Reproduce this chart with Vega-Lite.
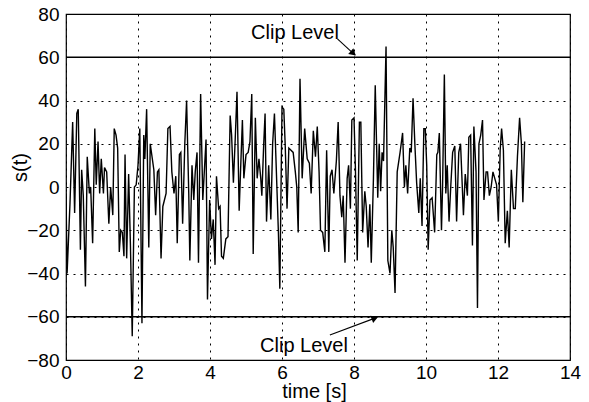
{
  "$schema": "https://vega.github.io/schema/vega-lite/v6.json",
  "autosize": "none",
  "width": 504,
  "height": 346,
  "padding": {"left": 66, "top": 14, "right": 19, "bottom": 42},
  "background": "white",
  "config": {
    "view": {"stroke": "black", "strokeWidth": 1.2},
    "font": "Liberation Sans",
    "axis": {
      "grid": true, "gridColor": "black", "gridDash": [2, 5], "gridOpacity": 1, "gridWidth": 1,
      "domain": false, "ticks": false,
      "labelFont": "Liberation Sans", "labelFontSize": 19, "labelColor": "black",
      "titleFont": "Liberation Sans", "titleFontSize": 20, "titleFontWeight": "normal", "titleColor": "black"
    }
  },
  "datasets": {
    "signal": [
      {"t":0.00,"s":-3},{"t":0.03,"s":-40},{"t":0.11,"s":-8},{"t":0.185,"s":30},{"t":0.24,"s":-12},{"t":0.30,"s":34},{"t":0.34,"s":36},{"t":0.40,"s":-29},{"t":0.435,"s":8},{"t":0.48,"s":-4},{"t":0.54,"s":-46},{"t":0.59,"s":14},{"t":0.65,"s":-3},{"t":0.685,"s":0},{"t":0.74,"s":-26},{"t":0.80,"s":27},{"t":0.84,"s":1},{"t":0.89,"s":21},{"t":0.935,"s":-3},{"t":0.98,"s":13},{"t":1.04,"s":-3},{"t":1.07,"s":9},{"t":1.13,"s":7},{"t":1.19,"s":-17},{"t":1.24,"s":0},{"t":1.30,"s":-13},{"t":1.34,"s":27},{"t":1.39,"s":24},{"t":1.435,"s":18},{"t":1.48,"s":-30},{"t":1.52,"s":-20},{"t":1.565,"s":-21},{"t":1.61,"s":-32},{"t":1.64,"s":15},{"t":1.685,"s":-33},{"t":1.74,"s":6},{"t":1.79,"s":-27},{"t":1.84,"s":-69},{"t":1.90,"s":0},{"t":1.95,"s":1},{"t":2.00,"s":10},{"t":2.05,"s":27},{"t":2.11,"s":-63},{"t":2.16,"s":24},{"t":2.19,"s":13},{"t":2.24,"s":36},{"t":2.30,"s":-28},{"t":2.34,"s":20},{"t":2.44,"s":8},{"t":2.49,"s":-13},{"t":2.54,"s":7},{"t":2.58,"s":8},{"t":2.64,"s":-33},{"t":2.69,"s":-9},{"t":2.78,"s":-3},{"t":2.83,"s":27},{"t":2.89,"s":28},{"t":2.94,"s":7},{"t":3.00,"s":-3},{"t":3.05,"s":5},{"t":3.09,"s":-26},{"t":3.15,"s":15},{"t":3.19,"s":16},{"t":3.24,"s":-17},{"t":3.30,"s":20},{"t":3.35,"s":40},{"t":3.41,"s":-3},{"t":3.44,"s":-34},{"t":3.50,"s":10},{"t":3.55,"s":-6},{"t":3.59,"s":7},{"t":3.64,"s":16},{"t":3.68,"s":-35},{"t":3.74,"s":43},{"t":3.80,"s":-6},{"t":3.89,"s":22},{"t":3.93,"s":-52},{"t":3.99,"s":-6},{"t":4.04,"s":-24},{"t":4.09,"s":-15},{"t":4.14,"s":-36},{"t":4.18,"s":5},{"t":4.24,"s":-10},{"t":4.28,"s":-9},{"t":4.32,"s":-32},{"t":4.37,"s":-33},{"t":4.44,"s":-24},{"t":4.50,"s":-23},{"t":4.56,"s":33},{"t":4.60,"s":24},{"t":4.65,"s":2},{"t":4.70,"s":22},{"t":4.75,"s":44},{"t":4.81,"s":-11},{"t":4.85,"s":8},{"t":4.90,"s":31},{"t":4.94,"s":4},{"t":5.00,"s":15},{"t":5.06,"s":16},{"t":5.11,"s":21},{"t":5.16,"s":43},{"t":5.20,"s":-31},{"t":5.26,"s":32},{"t":5.31,"s":4},{"t":5.36,"s":13},{"t":5.41,"s":4},{"t":5.44,"s":-4},{"t":5.49,"s":19},{"t":5.53,"s":34},{"t":5.57,"s":-16},{"t":5.63,"s":10},{"t":5.69,"s":-15},{"t":5.74,"s":20},{"t":5.79,"s":34},{"t":5.83,"s":14},{"t":5.90,"s":-21},{"t":5.94,"s":-47},{"t":6.00,"s":37},{"t":6.05,"s":36},{"t":6.09,"s":19},{"t":6.14,"s":-10},{"t":6.19,"s":18},{"t":6.25,"s":17},{"t":6.31,"s":16},{"t":6.37,"s":7},{"t":6.41,"s":0},{"t":6.45,"s":-21},{"t":6.50,"s":50},{"t":6.56,"s":4},{"t":6.63,"s":27},{"t":6.70,"s":13},{"t":6.76,"s":11},{"t":6.81,"s":-3},{"t":6.87,"s":26},{"t":6.93,"s":14},{"t":6.98,"s":28},{"t":7.03,"s":7},{"t":7.07,"s":-20},{"t":7.13,"s":-21},{"t":7.19,"s":-30},{"t":7.24,"s":17},{"t":7.30,"s":-30},{"t":7.34,"s":5},{"t":7.39,"s":8},{"t":7.44,"s":-3},{"t":7.51,"s":12},{"t":7.56,"s":30},{"t":7.61,"s":-4},{"t":7.66,"s":-14},{"t":7.70,"s":-4},{"t":7.75,"s":-35},{"t":7.81,"s":4},{"t":7.85,"s":10},{"t":7.90,"s":-10},{"t":7.94,"s":31},{"t":8.00,"s":32},{"t":8.04,"s":8},{"t":8.09,"s":-34},{"t":8.15,"s":30},{"t":8.19,"s":30},{"t":8.24,"s":-21},{"t":8.30,"s":-2},{"t":8.34,"s":-9},{"t":8.39,"s":-28},{"t":8.44,"s":-8},{"t":8.48,"s":-35},{"t":8.54,"s":4},{"t":8.59,"s":47},{"t":8.66,"s":-5},{"t":8.70,"s":20},{"t":8.74,"s":-2},{"t":8.78,"s":16},{"t":8.82,"s":12},{"t":8.89,"s":65},{"t":8.94,"s":-34},{"t":9.00,"s":-40},{"t":9.05,"s":-20},{"t":9.09,"s":-28},{"t":9.14,"s":-49},{"t":9.20,"s":7},{"t":9.28,"s":16},{"t":9.35,"s":25},{"t":9.40,"s":0},{"t":9.44,"s":10},{"t":9.49,"s":-3},{"t":9.55,"s":18},{"t":9.59,"s":16},{"t":9.64,"s":41},{"t":9.69,"s":20},{"t":9.74,"s":2},{"t":9.80,"s":-12},{"t":9.84,"s":4},{"t":9.89,"s":-18},{"t":9.94,"s":27},{"t":9.98,"s":27},{"t":10.02,"s":10},{"t":10.06,"s":-29},{"t":10.11,"s":-6},{"t":10.17,"s":-5},{"t":10.24,"s":-21},{"t":10.30,"s":15},{"t":10.33,"s":16},{"t":10.37,"s":25},{"t":10.43,"s":-20},{"t":10.46,"s":0},{"t":10.51,"s":52},{"t":10.55,"s":-3},{"t":10.59,"s":10},{"t":10.64,"s":-16},{"t":10.69,"s":1},{"t":10.74,"s":16},{"t":10.80,"s":19},{"t":10.85,"s":-16},{"t":10.91,"s":16},{"t":10.96,"s":20},{"t":11.04,"s":-13},{"t":11.09,"s":6},{"t":11.15,"s":-4},{"t":11.19,"s":23},{"t":11.24,"s":24},{"t":11.29,"s":-27},{"t":11.33,"s":28},{"t":11.39,"s":7},{"t":11.43,"s":-56},{"t":11.47,"s":20},{"t":11.52,"s":24},{"t":11.57,"s":31},{"t":11.61,"s":-6},{"t":11.67,"s":7},{"t":11.71,"s":7},{"t":11.76,"s":-4},{"t":11.81,"s":0},{"t":11.86,"s":7},{"t":11.91,"s":4},{"t":11.96,"s":1},{"t":12.01,"s":-16},{"t":12.06,"s":17},{"t":12.10,"s":27},{"t":12.15,"s":17},{"t":12.20,"s":-26},{"t":12.26,"s":-11},{"t":12.31,"s":-28},{"t":12.37,"s":8},{"t":12.43,"s":-10},{"t":12.48,"s":-10},{"t":12.54,"s":14},{"t":12.60,"s":32},{"t":12.65,"s":20},{"t":12.69,"s":-7},{"t":12.74,"s":21}
    ],
    "clip": [{"s": 60}, {"s": -60}],
    "labels": [
      {"t": 6.36, "s": 68.6, "label": "Clip Level"},
      {"t": 6.61, "s": -76.1, "label": "Clip Level"}
    ],
    "arrows": [
      {"t": 7.54, "s": 68.5, "t2": 8.03, "s2": 61.0},
      {"t": 7.33, "s": -68.4, "t2": 8.62, "s2": -60.4}
    ],
    "heads": [
      {"t": 7.98, "s": 61.8, "ang": 132},
      {"t": 8.58, "s": -60.7, "ang": 69}
    ]
  },
  "layer": [
    {
      "data": {"name": "signal"},
      "mark": {"type": "line", "color": "black", "strokeWidth": 1.4, "clip": true},
      "encoding": {
        "x": {"field": "t", "type": "quantitative", "title": "time [s]",
              "scale": {"domain": [0, 14], "nice": false, "zero": false},
              "axis": {"values": [0, 2, 4, 6, 8, 10, 12, 14], "labelPadding": 3, "labelFlush": false,
                       "titleX": 248, "titleY": 37, "titleBaseline": "alphabetic", "titleAnchor": null}},
        "y": {"field": "s", "type": "quantitative", "title": "s(t)",
              "scale": {"domain": [-80, 80], "nice": false, "zero": false},
              "axis": {"values": [-80, -60, -40, -20, 0, 20, 40, 60, 80], "labelPadding": 7, "labelFlush": false,
                       "titleX": -46, "titleY": 153, "titleAngle": -90, "titleBaseline": "middle", "titleAlign": "center", "titleAnchor": null}}
      }
    },
    {
      "data": {"name": "clip"},
      "mark": {"type": "rule", "color": "black", "strokeWidth": 1.5, "zindex": 2},
      "encoding": {
        "y": {"field": "s", "type": "quantitative", "title": "s(t)"}
      }
    },
    {
      "data": {"name": "arrows"},
      "mark": {"type": "rule", "color": "black", "strokeWidth": 1.1},
      "encoding": {
        "x": {"field": "t", "type": "quantitative", "title": "time [s]"},
        "y": {"field": "s", "type": "quantitative", "title": "s(t)"},
        "x2": {"field": "t2"},
        "y2": {"field": "s2"}
      }
    },
    {
      "data": {"name": "heads"},
      "mark": {"type": "point", "shape": "triangle-up", "filled": true, "color": "black", "size": 60, "opacity": 1},
      "encoding": {
        "x": {"field": "t", "type": "quantitative", "title": "time [s]"},
        "y": {"field": "s", "type": "quantitative", "title": "s(t)"},
        "angle": {"field": "ang", "type": "quantitative", "scale": null}
      }
    },
    {
      "data": {"name": "labels"},
      "mark": {"type": "text", "color": "black", "font": "Liberation Sans", "fontSize": 20, "align": "center", "baseline": "alphabetic"},
      "encoding": {
        "x": {"field": "t", "type": "quantitative", "title": "time [s]"},
        "y": {"field": "s", "type": "quantitative", "title": "s(t)"},
        "text": {"field": "label"}
      }
    }
  ]
}
